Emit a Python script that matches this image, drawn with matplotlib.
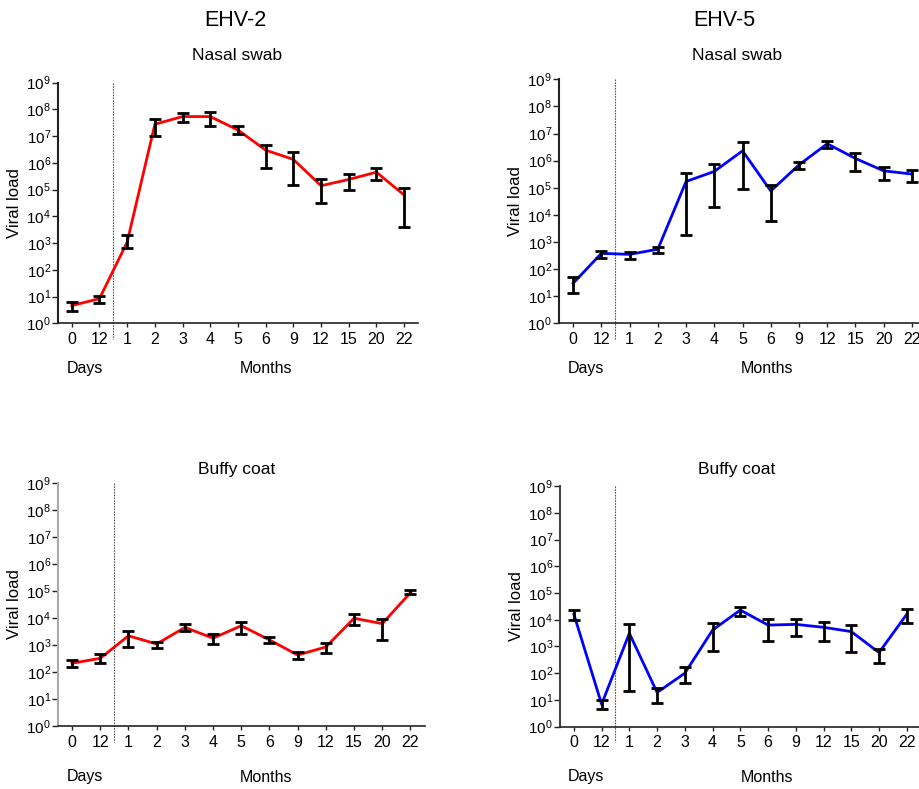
import matplotlib
matplotlib.use("Agg")
import matplotlib.pyplot as plt
import matplotlib.transforms as mtransforms
import numpy as np

plt.rcParams['font.family'] = ['Liberation Sans', 'DejaVu Sans']
plt.rcParams['mathtext.fontset'] = 'custom'
plt.rcParams['mathtext.rm'] = 'Liberation Sans'

tick_labels = ["0", "12", "1", "2", "3", "4", "5", "6", "9", "12", "15", "20", "22"]

# EHV-2 nasal swab
ehv2_nasal_mean = [4.6, 8.4, 1.1e3, 2.8e7, 5.4e7, 5.4e7, 1.7e7, 3.0e6, 1.35e6, 1.4e5, 2.4e5, 4.5e5, 6.3e4]
ehv2_nasal_hi = [6.5, 10.5, 2.0e3, 4.4e7, 7.1e7, 7.9e7, 2.3e7, 4.8e6, 2.5e6, 2.5e5, 3.7e5, 6.6e5, 1.2e5]
ehv2_nasal_lo = [3.0, 5.6, 6.3e2, 1.0e7, 3.5e7, 2.5e7, 1.2e7, 6.3e5, 1.5e5, 3.1e4, 1.0e5, 2.2e5, 4.0e3]

# EHV-5 nasal swab
ehv5_nasal_mean = [30, 380, 350, 540, 1.7e5, 4.0e5, 2.3e6, 7.6e4, 7.0e5, 4.2e6, 1.2e6, 4.2e5, 3.2e5]
ehv5_nasal_hi = [50, 480, 440, 680, 3.4e5, 7.6e5, 4.8e6, 1.3e5, 8.9e5, 5.5e6, 1.9e6, 6.0e5, 4.6e5]
ehv5_nasal_lo = [13.5, 250, 230, 380, 1.8e3, 2.0e4, 8.7e4, 6.0e3, 5.0e5, 2.9e6, 4.2e5, 2.0e5, 1.7e5]

# EHV-2 buffy coat
ehv2_buffy_mean = [213, 325, 2.2e3, 1.1e3, 4.5e3, 1.8e3, 5.2e3, 1.55e3, 430, 850, 9.8e3, 6.2e3, 8.7e4]
ehv2_buffy_hi = [280, 470, 3.2e3, 1.3e3, 6.2e3, 2.5e3, 7.4e3, 1.95e3, 540, 1.2e3, 1.4e4, 9.3e3, 1.1e5]
ehv2_buffy_lo = [150, 215, 870, 800, 3.2e3, 1.1e3, 2.6e3, 1.2e3, 300, 520, 5.4e3, 1.5e3, 7.6e4]

# EHV-5 buffy coat
ehv5_buffy_mean = [1.6e4, 6.9, 3.1e3, 19, 100, 4.1e3, 2.3e4, 6.3e3, 6.7e3, 5.2e3, 3.6e3, 590, 1.6e4]
ehv5_buffy_hi = [2.3e4, 10, 6.8e3, 28, 174, 7.6e3, 3.0e4, 1.07e4, 1.07e4, 8.5e3, 6.3e3, 780, 2.5e4]
ehv5_buffy_lo = [9.8e3, 4.7, 21, 7.8, 42, 680, 1.4e4, 1.66e3, 2.5e3, 1.6e3, 600, 234, 7.4e3]

ytick_vals = [10.0 ** k for k in range(10)]
ytick_labels = [r'$\mathregular{10^{%d}}$' % k for k in range(10)]

fig = plt.figure(figsize=(9.2, 7.89), dpi=100)

panels = [
    ([0.0630, 0.5902, 0.3913, 0.3050], ehv2_nasal_mean, ehv2_nasal_hi, ehv2_nasal_lo, 'red', 'Nasal swab', '#222222', (237, 56)),
    ([0.6076, 0.5902, 0.3990, 0.3093], ehv5_nasal_mean, ehv5_nasal_hi, ehv5_nasal_lo, 'blue', 'Nasal swab', '#222222', (737, 56)),
    ([0.0630, 0.0795, 0.3985, 0.3087], ehv2_buffy_mean, ehv2_buffy_hi, ehv2_buffy_lo, 'red', 'Buffy coat', '#aaaaaa', (237, 470)),
    ([0.6087, 0.0790, 0.3920, 0.3050], ehv5_buffy_mean, ehv5_buffy_hi, ehv5_buffy_lo, 'blue', 'Buffy coat', '#444444', (737, 470)),
]

for rect, mean, hi, lo, color, title, lspine, tpos in panels:
    ax = fig.add_axes(rect)
    x = np.arange(len(tick_labels))
    mean = np.array(mean); hi = np.array(hi); lo = np.array(lo)
    ax.plot(x, mean, color=color, lw=2, zorder=2, clip_on=False)
    ax.errorbar(x, mean, yerr=[mean - lo, hi - mean], fmt='none', ecolor='black',
                elinewidth=2, capsize=4.5, capthick=2, zorder=3, clip_on=False)
    ax.set_yscale('log')
    ax.set_ylim(1, 1e9)
    ax.set_xlim(-0.5, 12.5)
    ax.set_yticks(ytick_vals)
    ax.set_yticklabels(ytick_labels, fontsize=11)
    ax.yaxis.set_minor_locator(matplotlib.ticker.NullLocator())
    ax.set_xticks(x)
    ax.set_xticklabels(tick_labels, fontsize=11.5)
    ax.tick_params(axis='y', length=4, width=1, pad=1, color='#222222')
    ax.tick_params(axis='x', length=3, width=1, pad=3, color='#222222')
    for s in ['top', 'right']:
        ax.spines[s].set_visible(False)
    ax.spines['left'].set_color(lspine)
    ax.spines['left'].set_linewidth(1.5)
    ax.spines['bottom'].set_color('#222222')
    ax.spines['bottom'].set_linewidth(1.2)
    ax.set_ylabel('Viral load', fontsize=12, labelpad=3)
    fig.text(tpos[0] / 920, 1 - tpos[1] / 789, title, fontsize=12.5, ha='center', va='center')
    trans = mtransforms.blended_transform_factory(ax.transData, ax.transAxes)
    ax.plot([1.5, 1.5], [1.0, -0.065], transform=trans, color='#555555', lw=0.8,
            linestyle=(0, (1.5, 1)), clip_on=False, zorder=1)

fig.text(235 / 920, 1 - 20 / 789, 'EHV-2', fontsize=15.5, ha='center', va='center')
fig.text(724 / 920, 1 - 20 / 789, 'EHV-5', fontsize=15.5, ha='center', va='center')

for dx, mx, y in [(85, 266, 368), (586, 767, 368), (85, 266, 777), (586, 767, 777)]:
    fig.text(dx / 920, 1 - y / 789, 'Days', fontsize=11.5, ha='center', va='center')
    fig.text(mx / 920, 1 - y / 789, 'Months', fontsize=11.5, ha='center', va='center')

fig.savefig('out.png', dpi=100)
